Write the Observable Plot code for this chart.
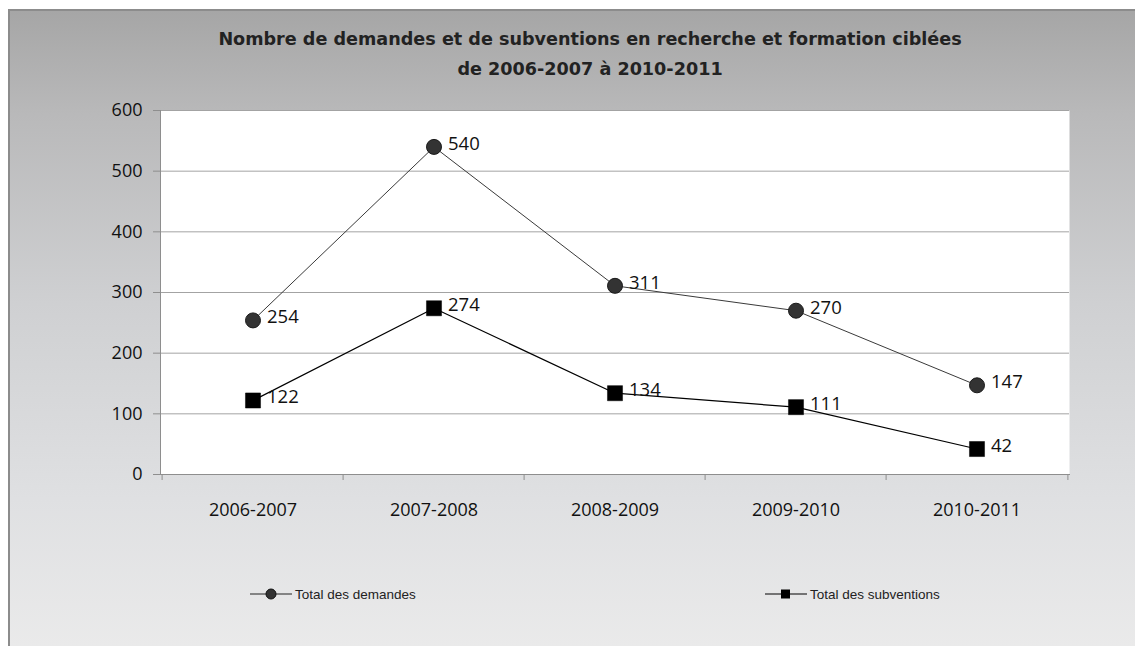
<!DOCTYPE html>
<html><head><meta charset="utf-8">
<script src="https://cdn.jsdelivr.net/npm/d3@7"></script>
<script src="https://cdn.jsdelivr.net/npm/@observablehq/plot@0.6"></script>
<style>
body{margin:0;background:#fff;}
#wrap{position:relative;width:1135px;height:646px;overflow:hidden;}
#frame{position:absolute;left:8px;top:9px;width:1140px;height:650px;border-left:2px solid #8c8c8c;border-top:2px solid #8c8c8c;
  background:linear-gradient(to bottom,#a6a6a6 0%,#b9b9ba 16%,#cfd0d2 45%,#dfe0e2 75%,#ebebeb 100%);}
#content{position:absolute;left:0;top:0;width:1135px;}
#title{height:95px;box-sizing:border-box;padding-top:24px;padding-left:45px;text-align:center;font-family:"DejaVu Sans",sans-serif;font-weight:bold;font-size:17.6px;line-height:30px;color:#222;}
#legend{position:relative;height:86px;font-family:"Liberation Sans",Arial,sans-serif;font-size:13.5px;color:#222;}
.item{position:absolute;top:26px;display:flex;align-items:center;}
.item svg{display:block;}
</style></head>
<body>
<div id="wrap">
  <div id="frame"></div>
  <div id="content">
    <div id="title">Nombre de demandes et de subventions en recherche et formation ciblées<br>de 2006-2007 à 2010-2011</div>
    <div id="chart"></div>
    <div id="legend"></div>
  </div>
</div>
<script>
const categories = ["2006-2007","2007-2008","2008-2009","2009-2010","2010-2011"];
const demandes = [254, 540, 311, 270, 147];
const subventions = [122, 274, 134, 111, 42];
const yTicks = [0, 100, 200, 300, 400, 500, 600];
const seriesNames = ["Total des demandes", "Total des subventions"];

const rowsD = categories.map((c, i) => ({cat: c, value: demandes[i]}));
const rowsS = categories.map((c, i) => ({cat: c, value: subventions[i]}));

const W = 1135, H = 465, mL = 160, mR = 66;
const bw = (W - mL - mR) / categories.length;
const font = "'Open Sans', sans-serif";

const plot = Plot.plot({
  width: W, height: H,
  marginLeft: mL, marginRight: mR, marginTop: 15, marginBottom: 86,
  style: {background: "transparent", overflow: "visible", fontFamily: font},
  x: {type: "band", domain: categories, padding: 0, axis: null, label: null},
  y: {domain: [0, 600], axis: null, label: null},
  marks: [
    Plot.frame({fill: "white", stroke: null}),
    Plot.gridY(yTicks.filter(d => d > 0), {stroke: "#a3a3a3", strokeOpacity: 1, strokeWidth: 1}),
    Plot.frame({anchor: "left", stroke: "#8e8e8e"}),
    Plot.frame({anchor: "bottom", stroke: "#8e8e8e"}),
    Plot.axisY({ticks: yTicks, label: null, tickSize: 7, tickPadding: 11, stroke: "#8e8e8e", fontSize: 18, fill: "#111", tickFormat: d => String(d)}),
    Plot.axisX({label: null, tickSize: 0, tickPadding: 29, fontSize: 18, fill: "#111"}),
    Plot.ruleX(categories, {x: d => d, y1: 0, y2: 0, dx: -bw / 2, insetBottom: -6, stroke: "#8e8e8e"}),
    Plot.ruleX([categories[categories.length - 1]], {x: d => d, y1: 0, y2: 0, dx: bw / 2, insetBottom: -6, stroke: "#8e8e8e"}),
    Plot.line(rowsD, {x: "cat", y: "value", stroke: "#3a3a3a", strokeWidth: 1}),
    Plot.line(rowsS, {x: "cat", y: "value", stroke: "#000", strokeWidth: 1.2}),
    Plot.dot(rowsD, {x: "cat", y: "value", r: 7.5, symbol: "circle", fill: "#333", stroke: "#1a1a1a", strokeWidth: 1}),
    Plot.dot(rowsS, {x: "cat", y: "value", r: 8.5, symbol: "square", fill: "#000", stroke: "#000", strokeWidth: 0.5}),
    Plot.text(rowsD, {x: "cat", y: "value", text: d => String(d.value), dx: 14, dy: -3, textAnchor: "start", fontSize: 18.5, fill: "#111"}),
    Plot.text(rowsS, {x: "cat", y: "value", text: d => String(d.value), dx: 14, dy: -3, textAnchor: "start", fontSize: 18.5, fill: "#111"})
  ]
});
document.getElementById("chart").appendChild(plot);

const legend = document.getElementById("legend");
const items = [
  {name: seriesNames[0], left: 250, sym: `<line x1="0" y1="8" x2="42" y2="8" stroke="#222" stroke-width="1"/><circle cx="21" cy="8" r="5" fill="#333" stroke="#111"/>`},
  {name: seriesNames[1], left: 765, sym: `<line x1="0" y1="8" x2="42" y2="8" stroke="#000" stroke-width="1"/><rect x="16" y="3.5" width="9" height="9" fill="#000"/>`}
];
items.forEach(it => {
  const el = document.createElement("div");
  el.className = "item";
  el.style.left = it.left + "px";
  el.innerHTML = `<svg width="44" height="16">${it.sym}</svg><span style="margin-left:1px">${it.name}</span>`;
  legend.appendChild(el);
});
</script>
</body></html>
